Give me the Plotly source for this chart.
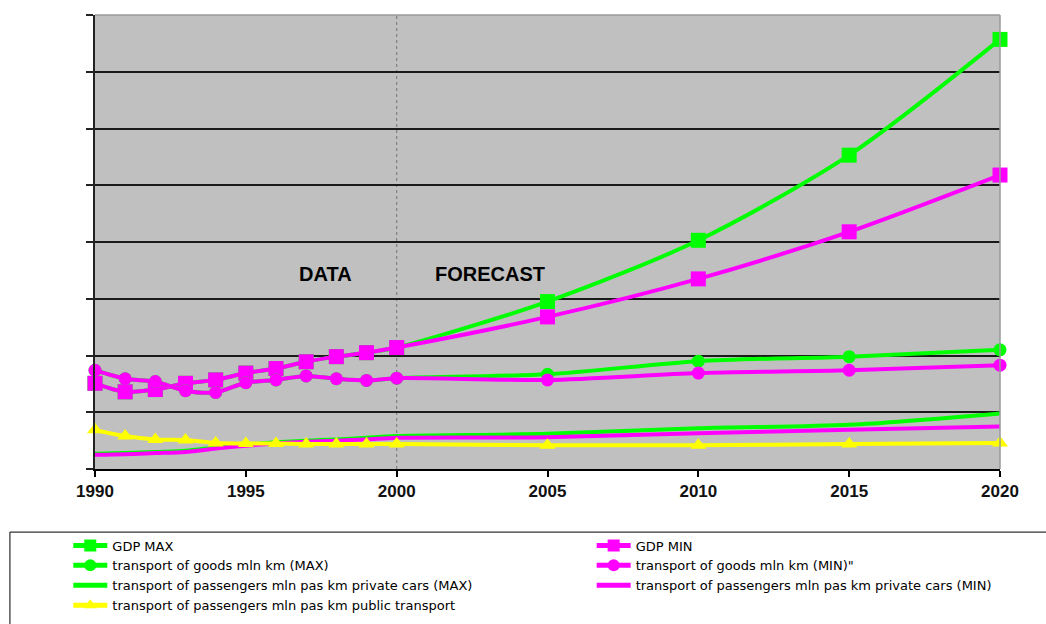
import plotly.graph_objects as go

# Years on the horizontal axis (yearly data, then five-year forecast steps)
years = [1990, 1991, 1992, 1993, 1994, 1995, 1996, 1997, 1998, 1999, 2000,
         2005, 2010, 2015, 2020]

# Index values (arbitrary units, no scale shown on the vertical axis)
gdp_max = [1.51, 1.36, 1.40, 1.51, 1.57, 1.69, 1.77, 1.89, 1.98, 2.05, 2.14,
           2.95, 4.03, 5.53, 7.57]
gdp_min = [1.51, 1.36, 1.40, 1.51, 1.57, 1.69, 1.77, 1.89, 1.98, 2.05, 2.14,
           2.68, 3.35, 4.18, 5.18]
goods_max = [1.74, 1.59, 1.54, 1.38, 1.35, 1.52, 1.57, 1.64, 1.59, 1.56, 1.60,
             1.67, 1.90, 1.98, 2.10]
goods_min = [1.74, 1.59, 1.54, 1.38, 1.35, 1.52, 1.57, 1.64, 1.59, 1.56, 1.60,
             1.57, 1.69, 1.74, 1.83]
cars_max = [0.27, 0.28, 0.30, 0.32, 0.38, 0.43, 0.47, 0.50, 0.52, 0.55, 0.58,
            0.62, 0.72, 0.78, 0.98]
cars_min = [0.25, 0.26, 0.28, 0.30, 0.36, 0.41, 0.45, 0.48, 0.50, 0.52, 0.55,
            0.56, 0.63, 0.69, 0.75]
public = [0.69, 0.58, 0.52, 0.51, 0.46, 0.45, 0.45, 0.44, 0.44, 0.44, 0.44,
          0.42, 0.42, 0.44, 0.46]

x_ticks = [1990, 1995, 2000, 2005, 2010, 2015, 2020]

GREEN = "#00FF00"
MAGENTA = "#FF00FF"
YELLOW = "#FFFF00"

# name, values, colour, marker symbol, marker size, legend column
series = [
    ("GDP MAX", gdp_max, GREEN, "square", 15, "legend"),
    ("GDP MIN", gdp_min, MAGENTA, "square", 15, "legend2"),
    ("transport of goods mln km (MAX)", goods_max, GREEN, "circle", 13, "legend"),
    ("transport of goods mln km (MIN)\"", goods_min, MAGENTA, "circle", 13, "legend2"),
    ("transport of passengers mln pas km private cars (MAX)", cars_max, GREEN, None, 0, "legend"),
    ("transport of passengers mln pas km private cars (MIN)", cars_min, MAGENTA, None, 0, "legend2"),
    ("transport of passengers mln pas km public transport", public, YELLOW, "triangle-up", 14, "legend"),
]

fig = go.Figure()
for name, vals, color, symbol, size, leg in series:
    mode = "lines+markers" if symbol else "lines"
    kw = dict(marker=dict(symbol=symbol, size=size, color=color)) if symbol else {}
    fig.add_trace(go.Scatter(
        x=years, y=vals, name=name, mode=mode, legend=leg,
        line=dict(color=color, width=4, shape="spline", smoothing=0.8),
        cliponaxis=False, **kw))

# Boundary between observed data and forecast
fig.add_shape(type="line", xref="x", yref="paper", x0=2000, x1=2000, y0=0, y1=1,
              line=dict(color="#808080", width=1.2, dash="dot"), layer="below")
# Light frame on the top and right edges of the plot area
fig.add_shape(type="line", xref="paper", yref="paper", x0=0, x1=1, y0=1, y1=1,
              line=dict(color="#9a9a9a", width=1.5))
fig.add_shape(type="line", xref="paper", yref="paper", x0=1, x1=1, y0=0, y1=1,
              line=dict(color="#9a9a9a", width=1.5))
# Box around the legend
fig.add_shape(type="rect", xref="paper", yref="paper",
              x0=-0.094, x1=1.06, y0=-0.139, y1=-0.36,
              line=dict(color="black", width=1), fillcolor="rgba(0,0,0,0)")

label_font = dict(family="Arial", size=20, color="black", weight="bold")
fig.add_annotation(x=1997.65, y=3.44, text="DATA", showarrow=False, font=label_font)
fig.add_annotation(x=2003.1, y=3.44, text="FORECAST", showarrow=False, font=label_font)

legend_common = dict(orientation="v", yanchor="top", xanchor="left", y=-0.1355,
                     itemwidth=34, itemsizing="constant",
                     bgcolor="rgba(0,0,0,0)", tracegroupgap=0,
                     font=dict(family="DejaVu Sans", size=13, color="black"))

fig.update_layout(
    width=1046, height=624,
    margin=dict(l=95, r=46, t=15, b=155, autoexpand=False),
    paper_bgcolor="white",
    plot_bgcolor="#C0C0C0",
    font=dict(family="Arial", color="black"),
    xaxis=dict(range=[1990, 2020], tickvals=x_ticks, ticktext=[str(v) for v in x_ticks],
               showgrid=False, zeroline=False, showline=True, linecolor="black", linewidth=2,
               ticks="outside", ticklen=6, tickcolor="black", tickwidth=1.5,
               tickfont=dict(family="Arial", size=17, weight="bold", color="#111")),
    yaxis=dict(range=[0, 8], dtick=1, showticklabels=False, showgrid=True,
               gridcolor="#1a1a1a", gridwidth=1.5, zeroline=False,
               showline=True, linecolor="#222", linewidth=2,
               ticks="outside", ticklen=7, tickcolor="#222", tickwidth=1.5),
    showlegend=True,
    legend=dict(x=-0.0295, **legend_common),
    legend2=dict(x=0.5488, **legend_common),
)

fig.write_html("out.html")
